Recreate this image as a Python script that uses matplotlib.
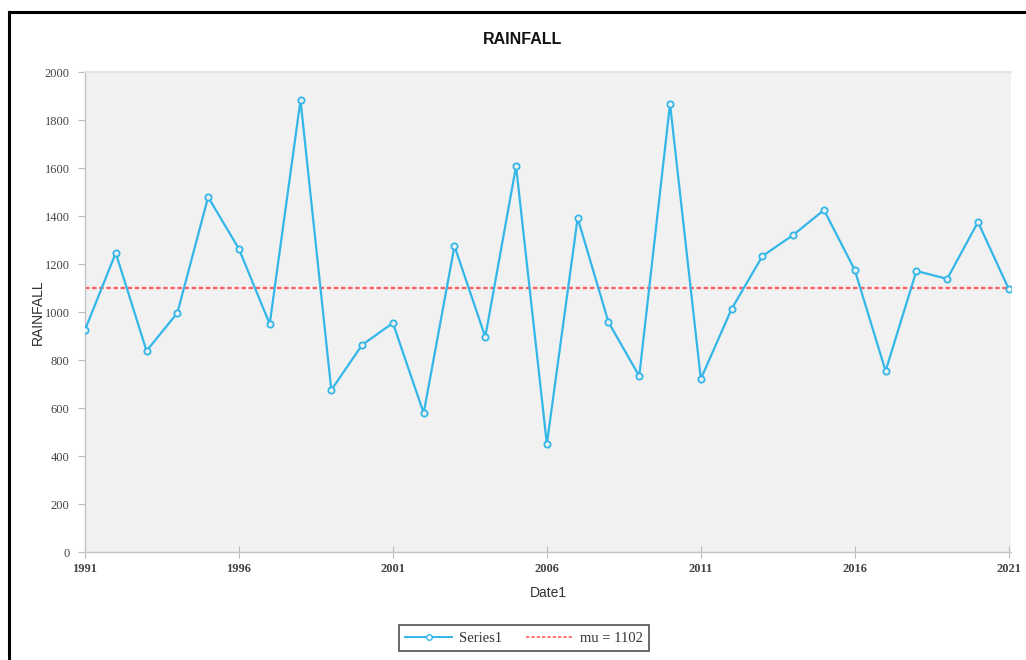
"""Rainfall by year with the long-run mean drawn across it."""

import matplotlib.pyplot as plt
from matplotlib.lines import Line2D

years = list(range(1991, 2022))
rainfall = [925, 1246, 838, 996, 1479, 1263, 950, 1883, 675, 863,
            954, 579, 1275, 896, 1608, 450, 1392, 958, 733, 1867,
            721, 1013, 1233, 1321, 1425, 1175, 754, 1171, 1138, 1375,
            1096]
mu = 1102
xticks = [1991, 1996, 2001, 2006, 2011, 2016, 2021]
yticks = [0, 200, 400, 600, 800, 1000, 1200, 1400, 1600, 1800, 2000]

LINE_BLUE = "#33b6e8"
MU_RED = "#ff5c5c"
PANEL = "#f1f1f1"
SERIF = ["Liberation Serif", "DejaVu Serif"]
SANS = ["Liberation Sans", "DejaVu Sans"]

fig = plt.figure(figsize=(10.26, 6.6), dpi=100)
ax = fig.add_axes([0.0828, 0.1636, 0.9025, 0.7273])
ax.set_facecolor(PANEL)

ax.plot(years, rainfall, color=LINE_BLUE, linewidth=1.6, marker="o",
        markersize=4.5, markerfacecolor=PANEL, markeredgecolor=LINE_BLUE,
        markeredgewidth=1.3, zorder=3)
ax.axhline(mu, color=MU_RED, linewidth=1.6, dashes=(2.0, 1.2), zorder=2)

ax.set_xlim(1991, 2021.07)
ax.set_ylim(0, 2000)
ax.set_xticks(xticks)
ax.set_yticks(yticks)
ax.set_xticklabels([str(t) for t in xticks], family=SERIF, fontsize=9,
                   color="#444444", fontweight="bold")
ax.set_yticklabels([str(t) for t in yticks], family=SERIF, fontsize=9,
                   color="#444444")
ax.tick_params(axis="y", length=5, width=0.8, color="#bbbbbb", pad=6)
ax.tick_params(axis="x", length=8, width=0.8, color="#bbbbbb",
               direction="inout", pad=4)

for side in ["left", "bottom"]:
    ax.spines[side].set_color("#c4c4c4")
    ax.spines[side].set_linewidth(1.0)
ax.spines["top"].set_color("#e4e4e4")
ax.spines["top"].set_linewidth(1.5)
ax.spines["right"].set_visible(False)

fig.text(523 / 1026, 1 - 39 / 660, "RAINFALL", ha="center", va="center",
         family=SANS, fontsize=11.5, fontweight="bold", color="#111111")
fig.text(38 / 1026, 1 - 312 / 660, "RAINFALL", ha="center", va="center",
         rotation=90, family=SANS, fontsize=10, color="#333333")
fig.text(548 / 1026, 1 - 593 / 660, "Date1", ha="center", va="center",
         family=SANS, fontsize=10, color="#333333")

handles = [
    Line2D([], [], color=LINE_BLUE, linewidth=1.4, marker="o", markersize=4,
           markerfacecolor="white", markeredgecolor=LINE_BLUE),
    Line2D([], [], color=MU_RED, linewidth=1.2, dashes=(2.0, 1.2)),
]
leg = fig.legend(handles, ["Series1", f"mu = {mu}"], loc="center",
                 bbox_to_anchor=(524 / 1026, 1 - 638 / 660), ncol=2,
                 frameon=True, fancybox=False, handlelength=3.2,
                 handletextpad=0.5, columnspacing=1.6, borderpad=0.45,
                 prop={"family": SERIF, "size": 10.5})
leg.get_frame().set_edgecolor("#222222")
leg.get_frame().set_linewidth(1.2)
for t in leg.get_texts():
    t.set_color("#333333")

# black frame of the original screenshot (top and left edges only)
fig.add_artist(Line2D([9 / 1026, 1.0], [1 - 12 / 660, 1 - 12 / 660],
                      transform=fig.transFigure, color="black", linewidth=2.2))
fig.add_artist(Line2D([9 / 1026, 9 / 1026], [0.0, 1 - 12 / 660],
                      transform=fig.transFigure, color="black", linewidth=2.2))

fig.savefig("out.png", dpi=100)
